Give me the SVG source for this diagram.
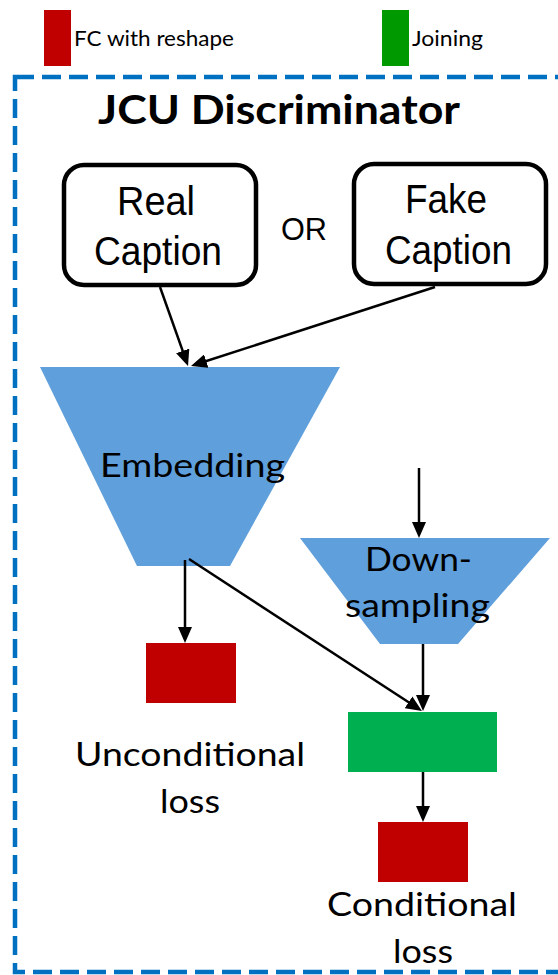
<svg xmlns="http://www.w3.org/2000/svg" width="558" height="975" viewBox="0 0 558 975">
  <style>
    .calibri { font-family: Lato, "Open Sans", "Liberation Sans", sans-serif; fill: #000; }
    .arial { font-family: "Liberation Sans", Arial, sans-serif; fill: #000; }
    .fc { fill: #C00000; }
    .join { fill: #00B050; }
    .trap { fill: #5F9FDB; }
    .capbox { fill: #fff; stroke: #000; stroke-width: 4.5; }
    .conn line { stroke: #000; stroke-width: 2.5; marker-end: url(#arrow); }
  </style>
  <defs>
    <marker id="arrow" viewBox="0 0 16 14" refX="12" refY="7" markerWidth="16" markerHeight="14" markerUnits="userSpaceOnUse" orient="auto">
      <path d="M0,0 L16,7 L0,14 z" fill="#000"/>
    </marker>
  </defs>

  <rect width="558" height="975" fill="#fff"/>

  <!-- legend -->
  <g id="legend">
    <rect x="44" y="10" width="27" height="56" fill="#C00000"/>
    <text class="calibri" x="74" y="46" font-size="22" fill="#1a1a1a" textLength="160" lengthAdjust="spacingAndGlyphs">FC with reshape</text>
    <rect x="382" y="10" width="27" height="56" fill="#009A00"/>
    <text class="calibri" x="412" y="46" font-size="22" fill="#1a1a1a" textLength="71" lengthAdjust="spacingAndGlyphs">Joining</text>
  </g>

  <!-- dashed frame -->
  <g id="frame">
    <rect x="15" y="77" width="570" height="895" fill="none" stroke="#0070C0" stroke-width="4.5" stroke-dasharray="19 8"/>
    <text class="calibri" x="98" y="124" font-size="41" font-weight="bold" textLength="362" lengthAdjust="spacingAndGlyphs">JCU Discriminator</text>
  </g>

  <!-- caption inputs -->
  <g id="real-caption">
    <rect class="capbox" x="64" y="165" width="192" height="120" rx="20"/>
    <text class="arial" x="117" y="215" font-size="40" textLength="78" lengthAdjust="spacingAndGlyphs">Real</text>
    <text class="arial" x="94" y="265" font-size="40" textLength="128" lengthAdjust="spacingAndGlyphs">Caption</text>
  </g>
  <text class="arial" x="281" y="240" font-size="31" textLength="46" lengthAdjust="spacingAndGlyphs">OR</text>
  <g id="fake-caption">
    <rect class="capbox" x="354" y="164" width="192" height="120" rx="20"/>
    <text class="arial" x="405" y="213" font-size="40" textLength="82" lengthAdjust="spacingAndGlyphs">Fake</text>
    <text class="arial" x="385" y="264" font-size="40" textLength="127" lengthAdjust="spacingAndGlyphs">Caption</text>
  </g>

  <!-- embedding -->
  <g id="embedding">
    <polygon class="trap" points="40,367 340,367 230,566 137,566"/>
    <text class="calibri" x="100" y="477" font-size="33" textLength="185" lengthAdjust="spacingAndGlyphs">Embedding</text>
  </g>

  <!-- down-sampling -->
  <g id="downsampling">
    <polygon class="trap" points="300,538 550,538 458,644 380,644"/>
    <text class="calibri" x="365" y="571" font-size="33" textLength="107" lengthAdjust="spacingAndGlyphs">Down-</text>
    <text class="calibri" x="345" y="617" font-size="33" textLength="145" lengthAdjust="spacingAndGlyphs">sampling</text>
  </g>

  <!-- unconditional output -->
  <g id="unconditional">
    <rect class="fc" x="146" y="643" width="90" height="60"/>
    <text class="calibri" x="75" y="766" font-size="33" textLength="230" lengthAdjust="spacingAndGlyphs">Unconditional</text>
    <text class="calibri" x="160" y="813" font-size="33" textLength="60" lengthAdjust="spacingAndGlyphs">loss</text>
  </g>

  <!-- joining -->
  <g id="joining">
    <rect class="join" x="348" y="712" width="149" height="60"/>
  </g>

  <!-- conditional output -->
  <g id="conditional">
    <rect class="fc" x="378" y="822" width="90" height="60"/>
    <text class="calibri" x="327" y="916" font-size="33" textLength="190" lengthAdjust="spacingAndGlyphs">Conditional</text>
    <text class="calibri" x="393" y="963" font-size="33" textLength="60" lengthAdjust="spacingAndGlyphs">loss</text>
  </g>

  <!-- connectors -->
  <g id="connectors" class="conn">
    <line x1="160" y1="287" x2="186.7" y2="362.2"/>
    <line x1="435" y1="287" x2="194.8" y2="364.8"/>
    <line x1="419" y1="468" x2="419" y2="534"/>
    <line x1="185" y1="560" x2="185" y2="639"/>
    <line x1="189" y1="559" x2="418.6" y2="708.8"/>
    <line x1="423" y1="644" x2="423" y2="707"/>
    <line x1="423" y1="772" x2="423" y2="818"/>
  </g>
</svg>
